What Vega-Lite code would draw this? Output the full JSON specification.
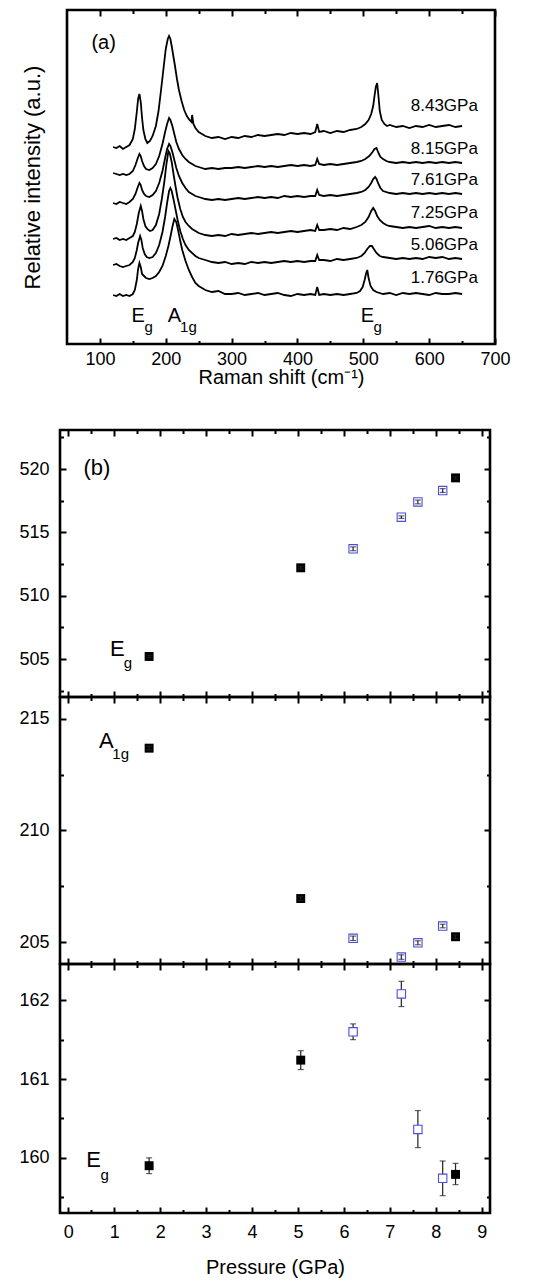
{
"$schema": "https://vega.github.io/schema/vega-lite/v6.json",
"padding": {"left": 17, "top": 8, "right": 5, "bottom": 2},
"spacing": 0,
"bounds": "flush",
"config": {
  "font": "Liberation Sans",
  "view": {"stroke": null},
  "axis": {"grid": false, "domain": false, "labelFont": "Liberation Sans", "titleFont": "Liberation Sans", "labelColor": "black", "titleColor": "black", "tickColor": "black", "tickWidth": 2, "labelFontSize": 18, "titleFontWeight": "normal", "labelOverlap": false, "labelFlush": false, "labelBound": false, "format": "d"},
  "text": {"font": "Liberation Sans", "color": "black"}
},
"datasets": {
  "spec": [
{"p":"1.76","x":120,"y":49},{"p":"1.76","x":125,"y":48},{"p":"1.76","x":130,"y":50},{"p":"1.76","x":135,"y":48},{"p":"1.76","x":140,"y":49},{"p":"1.76","x":145,"y":48},{"p":"1.76","x":150,"y":50},{"p":"1.76","x":153,"y":54},{"p":"1.76","x":156,"y":64},{"p":"1.76","x":158,"y":75},{"p":"1.76","x":160,"y":81},{"p":"1.76","x":162,"y":77},{"p":"1.76","x":164,"y":70},{"p":"1.76","x":167,"y":68},{"p":"1.76","x":170,"y":66},{"p":"1.76","x":175,"y":65},{"p":"1.76","x":180,"y":66},{"p":"1.76","x":185,"y":68},{"p":"1.76","x":190,"y":72},{"p":"1.76","x":195,"y":78},{"p":"1.76","x":200,"y":88},{"p":"1.76","x":204,"y":98},{"p":"1.76","x":207,"y":107},{"p":"1.76","x":210,"y":117},{"p":"1.76","x":213,"y":125},{"p":"1.76","x":216,"y":122},{"p":"1.76","x":219,"y":113},{"p":"1.76","x":222,"y":103},{"p":"1.76","x":225,"y":94},{"p":"1.76","x":230,"y":83},{"p":"1.76","x":235,"y":74},{"p":"1.76","x":240,"y":67},{"p":"1.76","x":245,"y":61},{"p":"1.76","x":250,"y":58},{"p":"1.76","x":255,"y":56},{"p":"1.76","x":260,"y":54},{"p":"1.76","x":270,"y":52},{"p":"1.76","x":280,"y":53},{"p":"1.76","x":290,"y":50},{"p":"1.76","x":300,"y":50},{"p":"1.76","x":310,"y":51},{"p":"1.76","x":320,"y":49},{"p":"1.76","x":330,"y":50},{"p":"1.76","x":340,"y":51},{"p":"1.76","x":350,"y":49},{"p":"1.76","x":360,"y":50},{"p":"1.76","x":370,"y":51},{"p":"1.76","x":380,"y":49},{"p":"1.76","x":390,"y":48},{"p":"1.76","x":400,"y":50},{"p":"1.76","x":410,"y":49},{"p":"1.76","x":420,"y":50},{"p":"1.76","x":427,"y":49},{"p":"1.76","x":430,"y":57},{"p":"1.76","x":433,"y":49},{"p":"1.76","x":440,"y":50},{"p":"1.76","x":450,"y":49},{"p":"1.76","x":460,"y":50},{"p":"1.76","x":470,"y":49},{"p":"1.76","x":480,"y":50},{"p":"1.76","x":490,"y":51},{"p":"1.76","x":495,"y":53},{"p":"1.76","x":499,"y":57},{"p":"1.76","x":502,"y":64},{"p":"1.76","x":504,"y":70},{"p":"1.76","x":506,"y":74},{"p":"1.76","x":508,"y":66},{"p":"1.76","x":511,"y":58},{"p":"1.76","x":515,"y":54},{"p":"1.76","x":520,"y":52},{"p":"1.76","x":530,"y":50},{"p":"1.76","x":540,"y":51},{"p":"1.76","x":550,"y":49},{"p":"1.76","x":560,"y":51},{"p":"1.76","x":570,"y":50},{"p":"1.76","x":580,"y":51},{"p":"1.76","x":590,"y":50},{"p":"1.76","x":600,"y":49},{"p":"1.76","x":610,"y":51},{"p":"1.76","x":620,"y":50},{"p":"1.76","x":630,"y":50},{"p":"1.76","x":640,"y":51},{"p":"1.76","x":650,"y":50},
{"p":"5.06","x":120,"y":79},{"p":"5.06","x":125,"y":80},{"p":"5.06","x":130,"y":78},{"p":"5.06","x":135,"y":77},{"p":"5.06","x":140,"y":78},{"p":"5.06","x":145,"y":79},{"p":"5.06","x":150,"y":82},{"p":"5.06","x":153,"y":86},{"p":"5.06","x":156,"y":94},{"p":"5.06","x":158,"y":101},{"p":"5.06","x":161,"y":108},{"p":"5.06","x":163,"y":104},{"p":"5.06","x":165,"y":96},{"p":"5.06","x":168,"y":90},{"p":"5.06","x":171,"y":87},{"p":"5.06","x":175,"y":86},{"p":"5.06","x":180,"y":87},{"p":"5.06","x":185,"y":91},{"p":"5.06","x":190,"y":99},{"p":"5.06","x":195,"y":112},{"p":"5.06","x":199,"y":127},{"p":"5.06","x":202,"y":141},{"p":"5.06","x":205,"y":153},{"p":"5.06","x":207,"y":156},{"p":"5.06","x":209,"y":153},{"p":"5.06","x":212,"y":144},{"p":"5.06","x":215,"y":134},{"p":"5.06","x":218,"y":124},{"p":"5.06","x":222,"y":113},{"p":"5.06","x":226,"y":105},{"p":"5.06","x":230,"y":99},{"p":"5.06","x":235,"y":94},{"p":"5.06","x":240,"y":91},{"p":"5.06","x":245,"y":88},{"p":"5.06","x":250,"y":86},{"p":"5.06","x":260,"y":84},{"p":"5.06","x":270,"y":82},{"p":"5.06","x":280,"y":81},{"p":"5.06","x":290,"y":82},{"p":"5.06","x":300,"y":80},{"p":"5.06","x":310,"y":81},{"p":"5.06","x":320,"y":80},{"p":"5.06","x":330,"y":82},{"p":"5.06","x":340,"y":81},{"p":"5.06","x":350,"y":82},{"p":"5.06","x":360,"y":81},{"p":"5.06","x":370,"y":82},{"p":"5.06","x":380,"y":83},{"p":"5.06","x":390,"y":82},{"p":"5.06","x":400,"y":83},{"p":"5.06","x":410,"y":82},{"p":"5.06","x":420,"y":83},{"p":"5.06","x":427,"y":83},{"p":"5.06","x":430,"y":89},{"p":"5.06","x":433,"y":84},{"p":"5.06","x":440,"y":84},{"p":"5.06","x":450,"y":83},{"p":"5.06","x":460,"y":85},{"p":"5.06","x":470,"y":84},{"p":"5.06","x":480,"y":85},{"p":"5.06","x":490,"y":86},{"p":"5.06","x":497,"y":88},{"p":"5.06","x":502,"y":91},{"p":"5.06","x":506,"y":95},{"p":"5.06","x":510,"y":98},{"p":"5.06","x":513,"y":98},{"p":"5.06","x":516,"y":95},{"p":"5.06","x":520,"y":91},{"p":"5.06","x":525,"y":88},{"p":"5.06","x":530,"y":87},{"p":"5.06","x":540,"y":86},{"p":"5.06","x":550,"y":85},{"p":"5.06","x":560,"y":86},{"p":"5.06","x":570,"y":85},{"p":"5.06","x":580,"y":86},{"p":"5.06","x":590,"y":85},{"p":"5.06","x":600,"y":87},{"p":"5.06","x":610,"y":86},{"p":"5.06","x":620,"y":87},{"p":"5.06","x":630,"y":85},{"p":"5.06","x":640,"y":86},{"p":"5.06","x":650,"y":85},
{"p":"7.25","x":120,"y":105},{"p":"7.25","x":125,"y":106},{"p":"7.25","x":130,"y":104},{"p":"7.25","x":135,"y":105},{"p":"7.25","x":140,"y":104},{"p":"7.25","x":145,"y":106},{"p":"7.25","x":150,"y":108},{"p":"7.25","x":153,"y":112},{"p":"7.25","x":156,"y":120},{"p":"7.25","x":159,"y":131},{"p":"7.25","x":162,"y":138},{"p":"7.25","x":164,"y":133},{"p":"7.25","x":166,"y":125},{"p":"7.25","x":169,"y":118},{"p":"7.25","x":172,"y":115},{"p":"7.25","x":176,"y":113},{"p":"7.25","x":180,"y":114},{"p":"7.25","x":185,"y":119},{"p":"7.25","x":190,"y":130},{"p":"7.25","x":194,"y":145},{"p":"7.25","x":198,"y":163},{"p":"7.25","x":201,"y":180},{"p":"7.25","x":204,"y":193},{"p":"7.25","x":206,"y":191},{"p":"7.25","x":209,"y":182},{"p":"7.25","x":212,"y":169},{"p":"7.25","x":215,"y":157},{"p":"7.25","x":218,"y":146},{"p":"7.25","x":222,"y":135},{"p":"7.25","x":226,"y":127},{"p":"7.25","x":230,"y":122},{"p":"7.25","x":235,"y":118},{"p":"7.25","x":240,"y":115},{"p":"7.25","x":245,"y":113},{"p":"7.25","x":250,"y":111},{"p":"7.25","x":260,"y":109},{"p":"7.25","x":270,"y":108},{"p":"7.25","x":280,"y":109},{"p":"7.25","x":290,"y":108},{"p":"7.25","x":300,"y":110},{"p":"7.25","x":310,"y":109},{"p":"7.25","x":320,"y":110},{"p":"7.25","x":330,"y":111},{"p":"7.25","x":340,"y":110},{"p":"7.25","x":350,"y":111},{"p":"7.25","x":360,"y":112},{"p":"7.25","x":370,"y":111},{"p":"7.25","x":380,"y":112},{"p":"7.25","x":390,"y":113},{"p":"7.25","x":400,"y":112},{"p":"7.25","x":410,"y":113},{"p":"7.25","x":420,"y":114},{"p":"7.25","x":427,"y":113},{"p":"7.25","x":430,"y":119},{"p":"7.25","x":433,"y":114},{"p":"7.25","x":440,"y":114},{"p":"7.25","x":450,"y":115},{"p":"7.25","x":460,"y":114},{"p":"7.25","x":470,"y":116},{"p":"7.25","x":480,"y":115},{"p":"7.25","x":490,"y":117},{"p":"7.25","x":497,"y":119},{"p":"7.25","x":503,"y":122},{"p":"7.25","x":508,"y":127},{"p":"7.25","x":512,"y":133},{"p":"7.25","x":515,"y":136},{"p":"7.25","x":518,"y":133},{"p":"7.25","x":521,"y":128},{"p":"7.25","x":525,"y":124},{"p":"7.25","x":530,"y":121},{"p":"7.25","x":535,"y":119},{"p":"7.25","x":540,"y":118},{"p":"7.25","x":550,"y":117},{"p":"7.25","x":560,"y":116},{"p":"7.25","x":570,"y":117},{"p":"7.25","x":580,"y":116},{"p":"7.25","x":590,"y":117},{"p":"7.25","x":600,"y":118},{"p":"7.25","x":610,"y":116},{"p":"7.25","x":620,"y":117},{"p":"7.25","x":630,"y":116},{"p":"7.25","x":640,"y":117},{"p":"7.25","x":650,"y":116},
{"p":"7.61","x":120,"y":141},{"p":"7.61","x":125,"y":140},{"p":"7.61","x":130,"y":142},{"p":"7.61","x":135,"y":141},{"p":"7.61","x":140,"y":140},{"p":"7.61","x":145,"y":142},{"p":"7.61","x":150,"y":145},{"p":"7.61","x":154,"y":150},{"p":"7.61","x":157,"y":156},{"p":"7.61","x":160,"y":161},{"p":"7.61","x":162,"y":159},{"p":"7.61","x":164,"y":154},{"p":"7.61","x":167,"y":150},{"p":"7.61","x":170,"y":148},{"p":"7.61","x":175,"y":147},{"p":"7.61","x":180,"y":149},{"p":"7.61","x":185,"y":153},{"p":"7.61","x":190,"y":161},{"p":"7.61","x":195,"y":173},{"p":"7.61","x":199,"y":186},{"p":"7.61","x":202,"y":195},{"p":"7.61","x":205,"y":200},{"p":"7.61","x":207,"y":198},{"p":"7.61","x":210,"y":192},{"p":"7.61","x":213,"y":184},{"p":"7.61","x":216,"y":176},{"p":"7.61","x":220,"y":168},{"p":"7.61","x":225,"y":161},{"p":"7.61","x":230,"y":156},{"p":"7.61","x":235,"y":152},{"p":"7.61","x":240,"y":150},{"p":"7.61","x":245,"y":148},{"p":"7.61","x":250,"y":147},{"p":"7.61","x":260,"y":145},{"p":"7.61","x":270,"y":144},{"p":"7.61","x":280,"y":145},{"p":"7.61","x":290,"y":144},{"p":"7.61","x":300,"y":145},{"p":"7.61","x":310,"y":146},{"p":"7.61","x":320,"y":145},{"p":"7.61","x":330,"y":146},{"p":"7.61","x":340,"y":147},{"p":"7.61","x":350,"y":146},{"p":"7.61","x":360,"y":147},{"p":"7.61","x":370,"y":146},{"p":"7.61","x":380,"y":148},{"p":"7.61","x":390,"y":147},{"p":"7.61","x":400,"y":148},{"p":"7.61","x":410,"y":147},{"p":"7.61","x":420,"y":148},{"p":"7.61","x":427,"y":148},{"p":"7.61","x":430,"y":154},{"p":"7.61","x":433,"y":149},{"p":"7.61","x":440,"y":148},{"p":"7.61","x":450,"y":149},{"p":"7.61","x":460,"y":148},{"p":"7.61","x":470,"y":149},{"p":"7.61","x":480,"y":150},{"p":"7.61","x":490,"y":151},{"p":"7.61","x":497,"y":152},{"p":"7.61","x":503,"y":154},{"p":"7.61","x":508,"y":157},{"p":"7.61","x":512,"y":161},{"p":"7.61","x":515,"y":165},{"p":"7.61","x":518,"y":167},{"p":"7.61","x":520,"y":165},{"p":"7.61","x":523,"y":160},{"p":"7.61","x":526,"y":156},{"p":"7.61","x":530,"y":153},{"p":"7.61","x":540,"y":151},{"p":"7.61","x":550,"y":150},{"p":"7.61","x":560,"y":151},{"p":"7.61","x":570,"y":150},{"p":"7.61","x":580,"y":151},{"p":"7.61","x":590,"y":150},{"p":"7.61","x":600,"y":151},{"p":"7.61","x":610,"y":150},{"p":"7.61","x":620,"y":151},{"p":"7.61","x":630,"y":150},{"p":"7.61","x":640,"y":151},{"p":"7.61","x":650,"y":150},
{"p":"8.15","x":120,"y":171},{"p":"8.15","x":125,"y":170},{"p":"8.15","x":130,"y":169},{"p":"8.15","x":135,"y":170},{"p":"8.15","x":140,"y":169},{"p":"8.15","x":145,"y":170},{"p":"8.15","x":150,"y":173},{"p":"8.15","x":154,"y":179},{"p":"8.15","x":157,"y":185},{"p":"8.15","x":160,"y":190},{"p":"8.15","x":162,"y":188},{"p":"8.15","x":164,"y":183},{"p":"8.15","x":167,"y":178},{"p":"8.15","x":170,"y":175},{"p":"8.15","x":175,"y":174},{"p":"8.15","x":180,"y":176},{"p":"8.15","x":185,"y":180},{"p":"8.15","x":190,"y":188},{"p":"8.15","x":195,"y":200},{"p":"8.15","x":199,"y":212},{"p":"8.15","x":202,"y":220},{"p":"8.15","x":205,"y":226},{"p":"8.15","x":207,"y":224},{"p":"8.15","x":210,"y":218},{"p":"8.15","x":213,"y":210},{"p":"8.15","x":216,"y":202},{"p":"8.15","x":220,"y":195},{"p":"8.15","x":225,"y":189},{"p":"8.15","x":230,"y":185},{"p":"8.15","x":235,"y":182},{"p":"8.15","x":240,"y":180},{"p":"8.15","x":245,"y":178},{"p":"8.15","x":250,"y":177},{"p":"8.15","x":260,"y":175},{"p":"8.15","x":270,"y":176},{"p":"8.15","x":280,"y":175},{"p":"8.15","x":290,"y":176},{"p":"8.15","x":300,"y":176},{"p":"8.15","x":310,"y":177},{"p":"8.15","x":320,"y":176},{"p":"8.15","x":330,"y":177},{"p":"8.15","x":340,"y":178},{"p":"8.15","x":350,"y":177},{"p":"8.15","x":360,"y":178},{"p":"8.15","x":370,"y":177},{"p":"8.15","x":380,"y":178},{"p":"8.15","x":390,"y":179},{"p":"8.15","x":400,"y":178},{"p":"8.15","x":410,"y":179},{"p":"8.15","x":420,"y":178},{"p":"8.15","x":427,"y":179},{"p":"8.15","x":430,"y":185},{"p":"8.15","x":433,"y":180},{"p":"8.15","x":440,"y":179},{"p":"8.15","x":450,"y":180},{"p":"8.15","x":460,"y":179},{"p":"8.15","x":470,"y":180},{"p":"8.15","x":480,"y":181},{"p":"8.15","x":490,"y":182},{"p":"8.15","x":497,"y":183},{"p":"8.15","x":503,"y":185},{"p":"8.15","x":509,"y":188},{"p":"8.15","x":514,"y":192},{"p":"8.15","x":517,"y":195},{"p":"8.15","x":520,"y":196},{"p":"8.15","x":523,"y":191},{"p":"8.15","x":526,"y":187},{"p":"8.15","x":530,"y":185},{"p":"8.15","x":535,"y":183},{"p":"8.15","x":540,"y":182},{"p":"8.15","x":550,"y":181},{"p":"8.15","x":560,"y":182},{"p":"8.15","x":570,"y":181},{"p":"8.15","x":580,"y":182},{"p":"8.15","x":590,"y":181},{"p":"8.15","x":600,"y":182},{"p":"8.15","x":610,"y":181},{"p":"8.15","x":620,"y":182},{"p":"8.15","x":630,"y":181},{"p":"8.15","x":640,"y":182},{"p":"8.15","x":650,"y":181},
{"p":"8.43","x":120,"y":197},{"p":"8.43","x":125,"y":196},{"p":"8.43","x":130,"y":198},{"p":"8.43","x":135,"y":195},{"p":"8.43","x":140,"y":197},{"p":"8.43","x":145,"y":199},{"p":"8.43","x":150,"y":205},{"p":"8.43","x":153,"y":215},{"p":"8.43","x":156,"y":232},{"p":"8.43","x":158,"y":245},{"p":"8.43","x":160,"y":250},{"p":"8.43","x":162,"y":242},{"p":"8.43","x":164,"y":226},{"p":"8.43","x":166,"y":214},{"p":"8.43","x":169,"y":205},{"p":"8.43","x":172,"y":201},{"p":"8.43","x":176,"y":203},{"p":"8.43","x":180,"y":208},{"p":"8.43","x":185,"y":218},{"p":"8.43","x":189,"y":233},{"p":"8.43","x":193,"y":255},{"p":"8.43","x":197,"y":278},{"p":"8.43","x":200,"y":295},{"p":"8.43","x":203,"y":305},{"p":"8.43","x":205,"y":308},{"p":"8.43","x":207,"y":305},{"p":"8.43","x":209,"y":298},{"p":"8.43","x":211,"y":290},{"p":"8.43","x":214,"y":278},{"p":"8.43","x":217,"y":265},{"p":"8.43","x":220,"y":254},{"p":"8.43","x":224,"y":243},{"p":"8.43","x":228,"y":234},{"p":"8.43","x":232,"y":228},{"p":"8.43","x":236,"y":224},{"p":"8.43","x":239,"y":222},{"p":"8.43","x":240,"y":229},{"p":"8.43","x":242,"y":220},{"p":"8.43","x":245,"y":216},{"p":"8.43","x":250,"y":212},{"p":"8.43","x":255,"y":210},{"p":"8.43","x":260,"y":208},{"p":"8.43","x":270,"y":206},{"p":"8.43","x":280,"y":207},{"p":"8.43","x":290,"y":205},{"p":"8.43","x":300,"y":207},{"p":"8.43","x":310,"y":206},{"p":"8.43","x":320,"y":208},{"p":"8.43","x":330,"y":207},{"p":"8.43","x":340,"y":209},{"p":"8.43","x":350,"y":208},{"p":"8.43","x":360,"y":209},{"p":"8.43","x":370,"y":210},{"p":"8.43","x":380,"y":209},{"p":"8.43","x":390,"y":211},{"p":"8.43","x":400,"y":210},{"p":"8.43","x":410,"y":211},{"p":"8.43","x":420,"y":210},{"p":"8.43","x":427,"y":212},{"p":"8.43","x":430,"y":220},{"p":"8.43","x":433,"y":212},{"p":"8.43","x":440,"y":213},{"p":"8.43","x":450,"y":211},{"p":"8.43","x":460,"y":213},{"p":"8.43","x":470,"y":212},{"p":"8.43","x":480,"y":214},{"p":"8.43","x":490,"y":215},{"p":"8.43","x":497,"y":217},{"p":"8.43","x":503,"y":220},{"p":"8.43","x":508,"y":224},{"p":"8.43","x":512,"y":230},{"p":"8.43","x":515,"y":238},{"p":"8.43","x":517,"y":248},{"p":"8.43","x":519,"y":257},{"p":"8.43","x":521,"y":261},{"p":"8.43","x":523,"y":248},{"p":"8.43","x":525,"y":233},{"p":"8.43","x":528,"y":224},{"p":"8.43","x":532,"y":220},{"p":"8.43","x":536,"y":218},{"p":"8.43","x":540,"y":219},{"p":"8.43","x":550,"y":217},{"p":"8.43","x":560,"y":218},{"p":"8.43","x":570,"y":216},{"p":"8.43","x":580,"y":218},{"p":"8.43","x":590,"y":217},{"p":"8.43","x":600,"y":219},{"p":"8.43","x":610,"y":217},{"p":"8.43","x":620,"y":218},{"p":"8.43","x":630,"y":219},{"p":"8.43","x":640,"y":217},{"p":"8.43","x":650,"y":218}
  ],
  "alab": [
    {"k":"curve","t":"8.43GPa","x":674,"y":238},
    {"k":"curve","t":"8.15GPa","x":674,"y":195},
    {"k":"curve","t":"7.61GPa","x":674,"y":164},
    {"k":"curve","t":"7.25GPa","x":674,"y":131},
    {"k":"curve","t":"5.06GPa","x":674,"y":99},
    {"k":"curve","t":"1.76GPa","x":674,"y":66},
    {"k":"main","t":"(a)","x":105.6,"y":301},
    {"k":"main","t":"E","x":158.2,"y":28},
    {"k":"sub","t":"g","x":174.2,"y":17},
    {"k":"main","t":"A","x":213.1,"y":28},
    {"k":"sub","t":"1g","x":234.4,"y":17},
    {"k":"main","t":"E","x":506.4,"y":28},
    {"k":"sub","t":"g","x":521.7,"y":17}
  ],
  "frame": [{"x0":50,"x1":700,"y0":0,"y1":334}],
  "pts": [
    {"m":"E2","k":"filled","p":1.76,"w":505.2,"lo":505.1,"hi":505.3},
    {"m":"E2","k":"filled","p":5.06,"w":512.2,"lo":512.1,"hi":512.3},
    {"m":"E2","k":"filled","p":8.43,"w":519.3,"lo":519.2,"hi":519.4},
    {"m":"E2","k":"open","p":6.2,"w":513.7,"lo":513.55,"hi":513.85},
    {"m":"E2","k":"open","p":7.25,"w":516.2,"lo":516.1,"hi":516.3},
    {"m":"E2","k":"open","p":7.61,"w":517.4,"lo":517.25,"hi":517.55},
    {"m":"E2","k":"open","p":8.15,"w":518.3,"lo":518.15,"hi":518.45},
    {"m":"A1","k":"filled","p":1.76,"w":213.68,"lo":213.6,"hi":213.76},
    {"m":"A1","k":"filled","p":5.06,"w":206.95,"lo":206.87,"hi":207.03},
    {"m":"A1","k":"filled","p":8.43,"w":205.24,"lo":205.16,"hi":205.32},
    {"m":"A1","k":"open","p":6.2,"w":205.17,"lo":205.07,"hi":205.27},
    {"m":"A1","k":"open","p":7.25,"w":204.33,"lo":204.23,"hi":204.43},
    {"m":"A1","k":"open","p":7.61,"w":204.97,"lo":204.88,"hi":205.06},
    {"m":"A1","k":"open","p":8.15,"w":205.72,"lo":205.64,"hi":205.8},
    {"m":"E1","k":"filled","p":1.76,"w":159.9,"lo":159.8,"hi":160.0},
    {"m":"E1","k":"filled","p":5.06,"w":161.24,"lo":161.12,"hi":161.36},
    {"m":"E1","k":"filled","p":8.43,"w":159.79,"lo":159.66,"hi":159.93},
    {"m":"E1","k":"open","p":6.2,"w":161.6,"lo":161.5,"hi":161.7},
    {"m":"E1","k":"open","p":7.25,"w":162.08,"lo":161.92,"hi":162.24},
    {"m":"E1","k":"open","p":7.61,"w":160.36,"lo":160.13,"hi":160.6},
    {"m":"E1","k":"open","p":8.15,"w":159.74,"lo":159.52,"hi":159.96}
  ],
  "blab": [
    {"m":"E2","k":"main","t":"(b)","p":0.625,"w":520.1},
    {"m":"E2","k":"main","t":"E","p":1.07,"w":505.8},
    {"m":"E2","k":"sub","t":"g","p":1.30,"w":504.7},
    {"m":"A1","k":"main","t":"A","p":0.83,"w":214.0},
    {"m":"A1","k":"sub","t":"1g","p":1.14,"w":213.4},
    {"m":"E1","k":"main","t":"E","p":0.55,"w":159.97},
    {"m":"E1","k":"sub","t":"g","p":0.79,"w":159.78}
  ]
},
"vconcat": [
  {
    "width": 435, "height": 420,
    "layer": [
      {
        "data": {"name": "spec"},
        "mark": {"type": "line", "color": "black", "strokeWidth": 1.8},
        "encoding": {
          "x": {"field": "x", "type": "quantitative", "scale": {"domain": [50, 700], "range": [7, 435], "nice": false, "zero": false},
                "axis": {"orient": "bottom", "offset": -86, "values": [100,150,200,250,300,350,400,450,500,550,600,650,700],
                         "tickSize": {"condition": {"test": "datum.value % 100 === 0", "value": -6}, "value": -3.5},
                         "labelExpr": "datum.value % 100 === 0 ? datum.label : ''", "labelPadding": 12,
                         "title": "Raman shift (cm⁻¹)", "titleFontSize": 20, "titlePadding": -3}},
          "y": {"field": "y", "type": "quantitative", "scale": {"domain": [-86, 334], "nice": false, "zero": false},
                "axis": {"orient": "left", "labels": false, "ticks": false, "title": "Relative intensity (a.u.)", "titleFontSize": 22, "titlePadding": 16, "titleY": 167}},
          "detail": {"field": "p", "type": "nominal"}
        }
      },
      {
        "data": {"name": "frame"},
        "mark": {"type": "rect", "filled": false, "color": "black", "strokeWidth": 2.6},
        "encoding": {
          "x": {"field": "x0", "type": "quantitative", "scale": {"domain": [50, 700], "range": [7, 435], "nice": false, "zero": false},
                "axis": {"orient": "top", "values": [100,150,200,250,300,350,400,450,500,550,600,650,700],
                         "tickSize": {"condition": {"test": "datum.value % 100 === 0", "value": -6}, "value": -3.5},
                         "labels": false, "title": null}},
          "x2": {"field": "x1"},
          "y": {"field": "y0", "type": "quantitative", "scale": {"domain": [-86, 334], "nice": false, "zero": false}, "axis": null},
          "y2": {"field": "y1"}
        }
      },
      {
        "data": {"name": "alab"},
        "transform": [{"filter": "datum.k === 'curve'"}],
        "mark": {"type": "text", "align": "right", "baseline": "middle", "fontSize": 17},
        "encoding": {
          "x": {"field": "x", "type": "quantitative", "axis": null},
          "y": {"field": "y", "type": "quantitative", "axis": null},
          "text": {"field": "t"}
        }
      },
      {
        "data": {"name": "alab"},
        "transform": [{"filter": "datum.k === 'main'"}],
        "mark": {"type": "text", "align": "center", "baseline": "middle", "fontSize": 20},
        "encoding": {
          "x": {"field": "x", "type": "quantitative", "axis": null},
          "y": {"field": "y", "type": "quantitative", "axis": null},
          "text": {"field": "t"}
        }
      },
      {
        "data": {"name": "alab"},
        "transform": [{"filter": "datum.k === 'sub'"}],
        "mark": {"type": "text", "align": "center", "baseline": "middle", "fontSize": 15},
        "encoding": {
          "x": {"field": "x", "type": "quantitative", "axis": null},
          "y": {"field": "y", "type": "quantitative", "axis": null},
          "text": {"field": "t"}
        }
      }
    ],
    "resolve": {"axis": {"x": "independent", "y": "independent"}}
  },
  {
    "width": 430, "height": 267,
    "view": {"stroke": "black", "strokeWidth": 2.6},
    "layer": [
      {
        "data": {"name": "pts"},
        "transform": [{"filter": "datum.m === 'E2' && datum.k === 'filled'"}],
        "mark": {"type": "square", "size": 80, "filled": true, "color": "black", "opacity": 1},
        "encoding": {
          "x": {"field": "p", "type": "quantitative", "scale": {"domain": [-0.18, 9.18], "nice": false, "zero": false},
                "axis": {"orient": "bottom", "values": [0,0.5,1,1.5,2,2.5,3,3.5,4,4.5,5,5.5,6,6.5,7,7.5,8,8.5,9],
                         "tickSize": {"condition": {"test": "datum.value % 1 === 0", "value": -6}, "value": -3.5},
                         "labels": false, "title": null}},
          "y": {"field": "w", "type": "quantitative", "scale": {"domain": [502, 523.08], "nice": false, "zero": false},
                "axis": {"orient": "left", "values": [502.5,505,507.5,510,512.5,515,517.5,520,522.5],
                         "tickSize": {"condition": {"test": "datum.value % 5 === 0", "value": -6}, "value": -3.5},
                         "labelExpr": "datum.value % 5 === 0 ? datum.label : ''", "labelPadding": 17, "title": null}}
        }
      },
      {
        "data": {"name": "pts"},
        "transform": [{"filter": "datum.m === 'E2' && datum.k === 'open'"}],
        "mark": {"type": "square", "size": 70, "fill": "white", "stroke": "#4d4de0", "strokeWidth": 1.1, "opacity": 1},
        "encoding": {
          "x": {"field": "p", "type": "quantitative", "scale": {"domain": [-0.18, 9.18], "nice": false, "zero": false},
                "axis": {"orient": "top", "values": [0,0.5,1,1.5,2,2.5,3,3.5,4,4.5,5,5.5,6,6.5,7,7.5,8,8.5,9],
                         "tickSize": {"condition": {"test": "datum.value % 1 === 0", "value": -6}, "value": -3.5},
                         "labels": false, "title": null}},
          "y": {"field": "w", "type": "quantitative", "scale": {"domain": [502, 523.08], "nice": false, "zero": false},
                "axis": {"orient": "right", "values": [502.5,505,507.5,510,512.5,515,517.5,520,522.5],
                         "tickSize": {"condition": {"test": "datum.value % 5 === 0", "value": -6}, "value": -3.5},
                         "labels": false, "title": null}}
        }
      },
      {
        "data": {"name": "pts"},
        "transform": [{"filter": "datum.m === 'E2'"}],
        "mark": {"type": "errorbar", "ticks": {"size": 6}, "thickness": 1.2, "color": "#222"},
        "encoding": {
          "x": {"field": "p", "type": "quantitative", "scale": {"domain": [-0.18, 9.18], "nice": false, "zero": false}, "axis": null},
          "y": {"field": "lo", "type": "quantitative", "scale": {"domain": [502, 523.08], "nice": false, "zero": false}, "axis": null},
          "y2": {"field": "hi"}
        }
      },
      {
        "data": {"name": "blab"},
        "transform": [{"filter": "datum.m === 'E2' && datum.k === 'main'"}],
        "mark": {"type": "text", "align": "center", "baseline": "middle", "fontSize": 22},
        "encoding": {
          "x": {"field": "p", "type": "quantitative", "axis": null},
          "y": {"field": "w", "type": "quantitative", "axis": null},
          "text": {"field": "t"}
        }
      },
      {
        "data": {"name": "blab"},
        "transform": [{"filter": "datum.m === 'E2' && datum.k === 'sub'"}],
        "mark": {"type": "text", "align": "center", "baseline": "middle", "fontSize": 15},
        "encoding": {
          "x": {"field": "p", "type": "quantitative", "axis": null},
          "y": {"field": "w", "type": "quantitative", "axis": null},
          "text": {"field": "t"}
        }
      }
    ],
    "resolve": {"axis": {"x": "independent", "y": "independent"}}
  },
  {
    "width": 430, "height": 267,
    "view": {"stroke": "black", "strokeWidth": 2.6},
    "layer": [
      {
        "data": {"name": "pts"},
        "transform": [{"filter": "datum.m === 'A1' && datum.k === 'filled'"}],
        "mark": {"type": "square", "size": 80, "filled": true, "color": "black", "opacity": 1},
        "encoding": {
          "x": {"field": "p", "type": "quantitative", "scale": {"domain": [-0.18, 9.18], "nice": false, "zero": false},
                "axis": {"orient": "bottom", "values": [0,0.5,1,1.5,2,2.5,3,3.5,4,4.5,5,5.5,6,6.5,7,7.5,8,8.5,9],
                         "tickSize": {"condition": {"test": "datum.value % 1 === 0", "value": -6}, "value": -3.5},
                         "labels": false, "title": null}},
          "y": {"field": "w", "type": "quantitative", "scale": {"domain": [204.02, 215.97], "nice": false, "zero": false},
                "axis": {"orient": "left", "values": [205,207.5,210,212.5,215],
                         "tickSize": {"condition": {"test": "datum.value % 5 === 0", "value": -6}, "value": -3.5},
                         "labelExpr": "datum.value % 5 === 0 ? datum.label : ''", "labelPadding": 17, "title": null}}
        }
      },
      {
        "data": {"name": "pts"},
        "transform": [{"filter": "datum.m === 'A1' && datum.k === 'open'"}],
        "mark": {"type": "square", "size": 70, "fill": "white", "stroke": "#4d4de0", "strokeWidth": 1.1, "opacity": 1},
        "encoding": {
          "x": {"field": "p", "type": "quantitative", "scale": {"domain": [-0.18, 9.18], "nice": false, "zero": false},
                "axis": {"orient": "top", "values": [0,0.5,1,1.5,2,2.5,3,3.5,4,4.5,5,5.5,6,6.5,7,7.5,8,8.5,9],
                         "tickSize": {"condition": {"test": "datum.value % 1 === 0", "value": -6}, "value": -3.5},
                         "labels": false, "title": null}},
          "y": {"field": "w", "type": "quantitative", "scale": {"domain": [204.02, 215.97], "nice": false, "zero": false},
                "axis": {"orient": "right", "values": [205,207.5,210,212.5,215],
                         "tickSize": {"condition": {"test": "datum.value % 5 === 0", "value": -6}, "value": -3.5},
                         "labels": false, "title": null}}
        }
      },
      {
        "data": {"name": "pts"},
        "transform": [{"filter": "datum.m === 'A1'"}],
        "mark": {"type": "errorbar", "ticks": {"size": 6}, "thickness": 1.2, "color": "#222"},
        "encoding": {
          "x": {"field": "p", "type": "quantitative", "scale": {"domain": [-0.18, 9.18], "nice": false, "zero": false}, "axis": null},
          "y": {"field": "lo", "type": "quantitative", "scale": {"domain": [204.02, 215.97], "nice": false, "zero": false}, "axis": null},
          "y2": {"field": "hi"}
        }
      },
      {
        "data": {"name": "blab"},
        "transform": [{"filter": "datum.m === 'A1' && datum.k === 'main'"}],
        "mark": {"type": "text", "align": "center", "baseline": "middle", "fontSize": 22},
        "encoding": {
          "x": {"field": "p", "type": "quantitative", "axis": null},
          "y": {"field": "w", "type": "quantitative", "axis": null},
          "text": {"field": "t"}
        }
      },
      {
        "data": {"name": "blab"},
        "transform": [{"filter": "datum.m === 'A1' && datum.k === 'sub'"}],
        "mark": {"type": "text", "align": "center", "baseline": "middle", "fontSize": 15},
        "encoding": {
          "x": {"field": "p", "type": "quantitative", "axis": null},
          "y": {"field": "w", "type": "quantitative", "axis": null},
          "text": {"field": "t"}
        }
      }
    ],
    "resolve": {"axis": {"x": "independent", "y": "independent"}}
  },
  {
    "width": 430, "height": 249,
    "view": {"stroke": "black", "strokeWidth": 2.6},
    "layer": [
      {
        "data": {"name": "pts"},
        "transform": [{"filter": "datum.m === 'E1'"}],
        "mark": {"type": "errorbar", "ticks": {"size": 6}, "thickness": 1.2, "color": "#222"},
        "encoding": {
          "x": {"field": "p", "type": "quantitative", "scale": {"domain": [-0.18, 9.18], "nice": false, "zero": false}, "axis": null},
          "y": {"field": "lo", "type": "quantitative", "scale": {"domain": [159.3, 162.46], "nice": false, "zero": false}, "axis": null},
          "y2": {"field": "hi"}
        }
      },
      {
        "data": {"name": "pts"},
        "transform": [{"filter": "datum.m === 'E1' && datum.k === 'filled'"}],
        "mark": {"type": "square", "size": 80, "filled": true, "color": "black", "opacity": 1},
        "encoding": {
          "x": {"field": "p", "type": "quantitative", "scale": {"domain": [-0.18, 9.18], "nice": false, "zero": false},
                "axis": {"orient": "bottom", "values": [0,0.5,1,1.5,2,2.5,3,3.5,4,4.5,5,5.5,6,6.5,7,7.5,8,8.5,9],
                         "tickSize": {"condition": {"test": "datum.value % 1 === 0", "value": -6}, "value": -3.5},
                         "labelExpr": "datum.value % 1 === 0 ? datum.label : ''", "labelPadding": 16,
                         "title": "Pressure (GPa)", "titleFontSize": 20, "titlePadding": 14}},
          "y": {"field": "w", "type": "quantitative", "scale": {"domain": [159.3, 162.46], "nice": false, "zero": false},
                "axis": {"orient": "left", "values": [159.5,160,160.5,161,161.5,162],
                         "tickSize": {"condition": {"test": "datum.value % 1 === 0", "value": -6}, "value": -3.5},
                         "labelExpr": "datum.value % 1 === 0 ? datum.label : ''", "labelPadding": 17, "title": null}}
        }
      },
      {
        "data": {"name": "pts"},
        "transform": [{"filter": "datum.m === 'E1' && datum.k === 'open'"}],
        "mark": {"type": "square", "size": 70, "fill": "white", "stroke": "#4d4de0", "strokeWidth": 1.1, "opacity": 1},
        "encoding": {
          "x": {"field": "p", "type": "quantitative", "scale": {"domain": [-0.18, 9.18], "nice": false, "zero": false},
                "axis": {"orient": "top", "values": [0,0.5,1,1.5,2,2.5,3,3.5,4,4.5,5,5.5,6,6.5,7,7.5,8,8.5,9],
                         "tickSize": {"condition": {"test": "datum.value % 1 === 0", "value": -6}, "value": -3.5},
                         "labels": false, "title": null}},
          "y": {"field": "w", "type": "quantitative", "scale": {"domain": [159.3, 162.46], "nice": false, "zero": false},
                "axis": {"orient": "right", "values": [159.5,160,160.5,161,161.5,162],
                         "tickSize": {"condition": {"test": "datum.value % 1 === 0", "value": -6}, "value": -3.5},
                         "labels": false, "title": null}}
        }
      },
      {
        "data": {"name": "blab"},
        "transform": [{"filter": "datum.m === 'E1' && datum.k === 'main'"}],
        "mark": {"type": "text", "align": "center", "baseline": "middle", "fontSize": 22},
        "encoding": {
          "x": {"field": "p", "type": "quantitative", "axis": null},
          "y": {"field": "w", "type": "quantitative", "axis": null},
          "text": {"field": "t"}
        }
      },
      {
        "data": {"name": "blab"},
        "transform": [{"filter": "datum.m === 'E1' && datum.k === 'sub'"}],
        "mark": {"type": "text", "align": "center", "baseline": "middle", "fontSize": 15},
        "encoding": {
          "x": {"field": "p", "type": "quantitative", "axis": null},
          "y": {"field": "w", "type": "quantitative", "axis": null},
          "text": {"field": "t"}
        }
      }
    ],
    "resolve": {"axis": {"x": "independent", "y": "independent"}}
  }
]
}
